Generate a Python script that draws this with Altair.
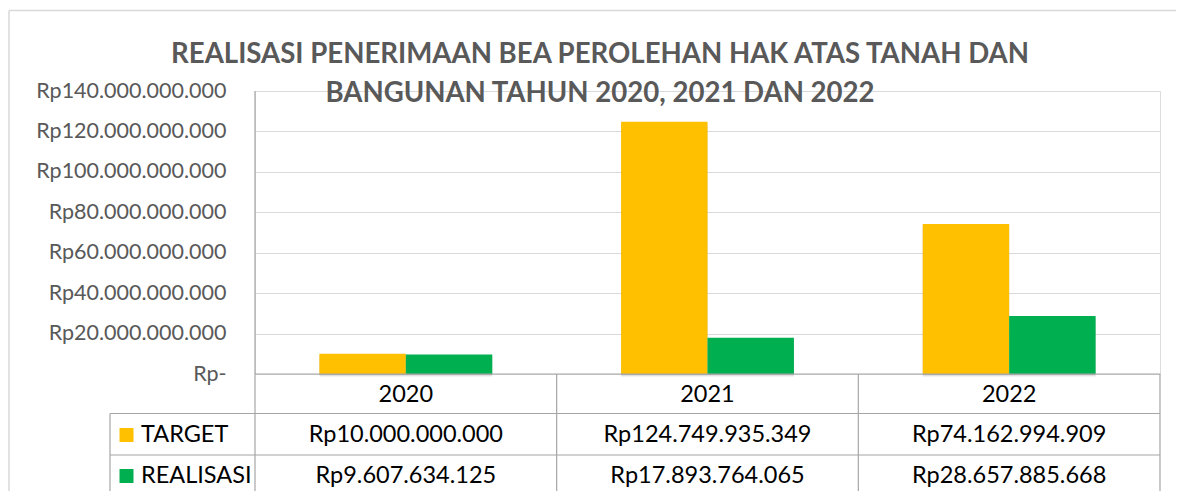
import altair as alt
import pandas as pd

years = ["2020", "2021", "2022"]
series_names = ["TARGET", "REALISASI"]
series_colors = ["#FFC000", "#00B050"]
target = [10000000000, 124749935349, 74162994909]
realisasi = [9607634125, 17893764065, 28657885668]
y_ticks = [0, 20e9, 40e9, 60e9, 80e9, 100e9, 120e9, 140e9]
title_lines = [
    "REALISASI PENERIMAAN BEA PEROLEHAN HAK ATAS TANAH DAN",
    "BANGUNAN TAHUN 2020, 2021 DAN 2022",
]


def rp(v):
    return "Rp" + f"{v:,}".replace(",", ".")


rows = []
for i, yr in enumerate(years):
    rows.append(dict(year=yr, series="TARGET", value=target[i], label=rp(target[i])))
    rows.append(dict(year=yr, series="REALISASI", value=realisasi[i], label=rp(realisasi[i])))
df = pd.DataFrame(rows)

FONT = "Lato"
W, H = 905, 283
PAD_L, PAD_T = 247, 83
CANVAS_W, CANVAS_H = 1168, 483
BOTTOM = CANVAS_H - PAD_T
FRAME = "#d9d9d9"
TABLE = "#a6a6a6"
TABLE_FS = 23.5

x_enc = alt.X("year:N", scale=alt.Scale(domain=years, paddingInner=0, paddingOuter=0), axis=None)
y_enc = alt.Y(
    "value:Q",
    scale=alt.Scale(domain=[0, 140e9], nice=False, zero=True),
    axis=alt.Axis(
        values=y_ticks,
        grid=True,
        gridColor=FRAME,
        gridWidth=1,
        domain=False,
        ticks=False,
        title=None,
        labelPadding=29,
        labelLimit=400,
        labelFont=FONT,
        labelFontSize=21.5,
        labelColor="#595959",
        labelExpr="datum.value == 0 ? 'Rp-' : 'Rp' + replace(format(datum.value, ',.0f'), regexp(',', 'g'), '.')",
    ),
)
xoff_enc = alt.XOffset(
    "series:N", scale=alt.Scale(domain=series_names, paddingInner=0, paddingOuter=0.745)
)
color_enc = alt.Color("series:N", scale=alt.Scale(domain=series_names, range=series_colors), legend=None)

base = alt.Chart(df)

layers = []
# soft shadow under bars
for off, op in [(3, 0.05), (2, 0.07), (1, 0.09)]:
    layers.append(
        base.mark_bar(color="#000000", opacity=op, xOffset=off, yOffset=off).encode(
            x=x_enc, xOffset=xoff_enc, y=y_enc
        )
    )
layers.append(base.mark_bar().encode(x=x_enc, xOffset=xoff_enc, y=y_enc, color=color_enc))

one = pd.DataFrame({"k": [0]})


def seg(x, x2, y, y2, color, width=1.0):
    return alt.Chart(one).mark_rule(color=color, strokeWidth=width).encode(
        x=alt.value(x), x2=alt.value(x2), y=alt.value(y), y2=alt.value(y2)
    )


# outer frame
layers.append(seg(-246, CANVAS_W, -80.5, -80.5, FRAME, 1.5))
layers.append(seg(-246, -246, -80.5, BOTTOM + 10, FRAME, 1.5))
# table grid
layers.append(seg(0, W, H, H, TABLE, 1.2))
layers.append(seg(-145, W, 322.5, 322.5, TABLE, 1.2))
layers.append(seg(-145, W, 364, 364, TABLE, 1.2))
layers.append(seg(-145, -145, 322.5, BOTTOM + 10, TABLE, 1.2))
layers.append(seg(0, 0, 0, BOTTOM + 10, TABLE, 1.2))
# category boundaries from the band scale
yr_df = pd.DataFrame({"year": years})
layers.append(
    alt.Chart(yr_df).mark_rule(color=TABLE, strokeWidth=1.2).encode(
        x=alt.X("year:N", scale=alt.Scale(domain=years, paddingInner=0, paddingOuter=0), axis=None, bandPosition=1),
        y=alt.value(H),
        y2=alt.value(BOTTOM + 10),
    )
)

# title
for i, line in enumerate(title_lines):
    layers.append(
        alt.Chart(pd.DataFrame({"t": [line]})).mark_text(
            font=FONT, fontSize=27.6, fontWeight="bold", color="#595959", align="center", baseline="alphabetic"
        ).encode(text="t:N", x=alt.value(345), y=alt.value([-28, 11][i]))
    )

# table header (years)
layers.append(
    alt.Chart(yr_df).mark_text(font=FONT, fontSize=TABLE_FS, color="#000000", baseline="middle").encode(
        x=x_enc, y=alt.value(304), text="year:N"
    )
)
# table rows
for s, ry in zip(series_names, [344, 385]):
    sub = base.transform_filter(alt.datum.series == s)
    layers.append(
        sub.mark_text(font=FONT, fontSize=TABLE_FS, color="#000000", baseline="middle").encode(
            x=x_enc, y=alt.value(ry), text="label:N"
        )
    )
    leg = alt.Chart(pd.DataFrame({"series": [s]}))
    layers.append(
        leg.mark_square(size=196, opacity=1, filled=True).encode(
            x=alt.value(-128.5), y=alt.value(ry), color=color_enc
        )
    )
    layers.append(
        leg.mark_text(font=FONT, fontSize=TABLE_FS, color="#000000", align="left", baseline="middle").encode(
            x=alt.value(-114), y=alt.value(ry), text="series:N"
        )
    )

chart = (
    alt.layer(*layers)
    .properties(
        width=W,
        height=H,
        autosize=alt.AutoSizeParams(type="none"),
        padding={"left": PAD_L, "top": PAD_T, "right": CANVAS_W - PAD_L - W, "bottom": CANVAS_H - PAD_T - H},
    )
    .configure_view(stroke=None)
    .configure(background="white")
)

chart.save("out.html", embed_options={"renderer": "svg", "actions": False})
